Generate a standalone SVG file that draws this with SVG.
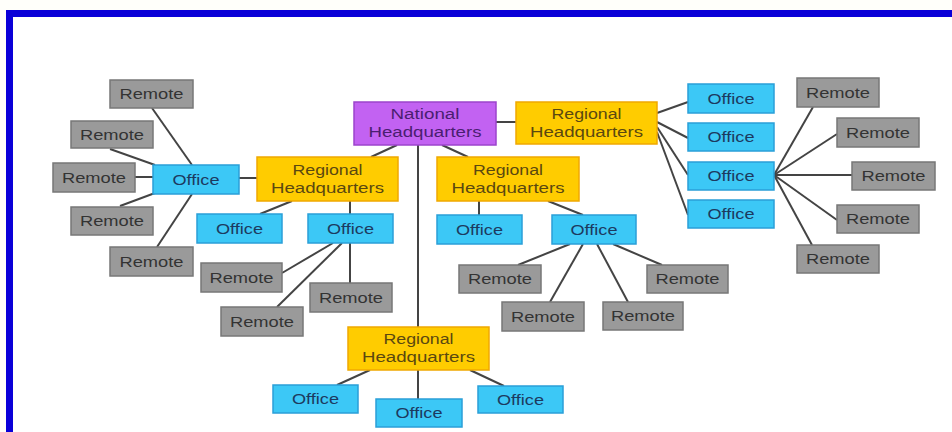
<svg xmlns="http://www.w3.org/2000/svg" width="952" height="432" viewBox="0 0 952 432">
<style>
.r{fill:#9a9a9a;stroke:#777;stroke-width:1.5}
.o{fill:#3cc8f6;stroke:#2a9fd8;stroke-width:1.5}
.h{fill:#ffcc00;stroke:#f0a800;stroke-width:1.5}
.n{fill:#c262f2;stroke:#9c44cc;stroke-width:1.5}
text{font-family:"Liberation Sans",Arial,sans-serif;font-size:14px;text-anchor:middle}
.tr{fill:#333}
.to{fill:#1c3a60}
.th{fill:#5a4810}
.tn{fill:#4a1e70}
#connectors line{stroke:#444;stroke-width:2}
</style>
<rect x="0" y="0" width="952" height="432" fill="#fffffa"/>
<rect x="12" y="17" width="940" height="415" fill="#ffffff"/>
<rect x="6" y="10" width="946" height="7" fill="#0a00d8"/>
<rect x="6" y="10" width="7" height="422" fill="#0a00d8"/>

<g id="connectors">
<line x1="152" y1="108" x2="192" y2="165"/>
<line x1="110" y1="149" x2="155" y2="165"/>
<line x1="135" y1="177" x2="153" y2="177"/>
<line x1="120" y1="206" x2="155" y2="193"/>
<line x1="192" y1="194" x2="157" y2="247"/>
<line x1="239" y1="178" x2="257" y2="178"/>
<line x1="292" y1="201" x2="260" y2="214"/>
<line x1="350" y1="201" x2="350" y2="214"/>
<line x1="333" y1="243" x2="282" y2="273"/>
<line x1="342" y1="243" x2="277" y2="307"/>
<line x1="350" y1="243" x2="350" y2="283"/>
<line x1="397" y1="145" x2="371" y2="157"/>
<line x1="442" y1="145" x2="468" y2="157"/>
<line x1="496" y1="122" x2="516" y2="122"/>
<line x1="418" y1="145" x2="418" y2="327"/>
<line x1="479" y1="201" x2="479" y2="215"/>
<line x1="548" y1="201" x2="583" y2="215"/>
<line x1="570" y1="244" x2="518" y2="265"/>
<line x1="583" y1="244" x2="550" y2="302"/>
<line x1="597" y1="244" x2="628" y2="302"/>
<line x1="613" y1="244" x2="662" y2="265"/>
<line x1="370" y1="370" x2="337" y2="385"/>
<line x1="418" y1="370" x2="418" y2="399"/>
<line x1="470" y1="370" x2="504" y2="386"/>
<line x1="657" y1="113" x2="688" y2="102"/>
<line x1="657" y1="122" x2="688" y2="138"/>
<line x1="657" y1="127" x2="688" y2="175"/>
<line x1="657" y1="132" x2="688" y2="215"/>
<line x1="774" y1="175" x2="813" y2="107"/>
<line x1="774" y1="175" x2="837" y2="134"/>
<line x1="774" y1="175" x2="852" y2="175"/>
<line x1="774" y1="175" x2="837" y2="220"/>
<line x1="774" y1="175" x2="812" y2="245"/>
</g>

<g id="l_r1"><rect class="r" x="110" y="80" width="83" height="28"/><text class="tr" x="151.5" y="99" textLength="64" lengthAdjust="spacingAndGlyphs">Remote</text></g>
<g id="l_r2"><rect class="r" x="71" y="121" width="82" height="27"/><text class="tr" x="112" y="139.5" textLength="64" lengthAdjust="spacingAndGlyphs">Remote</text></g>
<g id="l_r3"><rect class="r" x="53" y="163" width="82" height="29"/><text class="tr" x="94" y="182.5" textLength="64" lengthAdjust="spacingAndGlyphs">Remote</text></g>
<g id="l_o"><rect class="o" x="153" y="165" width="86" height="29"/><text class="to" x="196" y="184.5" textLength="47" lengthAdjust="spacingAndGlyphs">Office</text></g>
<g id="l_r4"><rect class="r" x="71" y="207" width="82" height="28"/><text class="tr" x="112" y="226" textLength="64" lengthAdjust="spacingAndGlyphs">Remote</text></g>
<g id="l_r5"><rect class="r" x="110" y="247" width="83" height="29"/><text class="tr" x="151.5" y="266.5" textLength="64" lengthAdjust="spacingAndGlyphs">Remote</text></g>

<g id="rhq_l"><rect class="h" x="257" y="157" width="141" height="44"/><text class="th" x="327.5" y="174.5" textLength="70" lengthAdjust="spacingAndGlyphs">Regional</text><text class="th" x="327.5" y="192.5" textLength="113" lengthAdjust="spacingAndGlyphs">Headquarters</text></g>
<g id="o_l1"><rect class="o" x="197" y="214" width="85" height="29"/><text class="to" x="239.5" y="233.5" textLength="47" lengthAdjust="spacingAndGlyphs">Office</text></g>
<g id="o_l2"><rect class="o" x="308" y="214" width="85" height="29"/><text class="to" x="350.5" y="233.5" textLength="47" lengthAdjust="spacingAndGlyphs">Office</text></g>
<g id="r_l2a"><rect class="r" x="201" y="263" width="81" height="29"/><text class="tr" x="241.5" y="282.5" textLength="64" lengthAdjust="spacingAndGlyphs">Remote</text></g>
<g id="r_l2b"><rect class="r" x="221" y="307" width="82" height="29"/><text class="tr" x="262" y="326.5" textLength="64" lengthAdjust="spacingAndGlyphs">Remote</text></g>
<g id="r_l2c"><rect class="r" x="310" y="283" width="82" height="29"/><text class="tr" x="351" y="302.5" textLength="64" lengthAdjust="spacingAndGlyphs">Remote</text></g>

<g id="nhq"><rect class="n" x="354" y="102" width="142" height="43"/><text class="tn" x="425" y="119" textLength="69" lengthAdjust="spacingAndGlyphs">National</text><text class="tn" x="425" y="137" textLength="113" lengthAdjust="spacingAndGlyphs">Headquarters</text></g>
<g id="rhq_r"><rect class="h" x="516" y="102" width="141" height="42"/><text class="th" x="586.5" y="118.5" textLength="70" lengthAdjust="spacingAndGlyphs">Regional</text><text class="th" x="586.5" y="136.5" textLength="113" lengthAdjust="spacingAndGlyphs">Headquarters</text></g>
<g id="rhq_c"><rect class="h" x="437" y="157" width="142" height="44"/><text class="th" x="508" y="174.5" textLength="70" lengthAdjust="spacingAndGlyphs">Regional</text><text class="th" x="508" y="192.5" textLength="113" lengthAdjust="spacingAndGlyphs">Headquarters</text></g>
<g id="o_c1"><rect class="o" x="437" y="215" width="85" height="29"/><text class="to" x="479.5" y="234.5" textLength="47" lengthAdjust="spacingAndGlyphs">Office</text></g>
<g id="o_c2"><rect class="o" x="552" y="215" width="84" height="29"/><text class="to" x="594" y="234.5" textLength="47" lengthAdjust="spacingAndGlyphs">Office</text></g>
<g id="r_c1"><rect class="r" x="459" y="265" width="82" height="28"/><text class="tr" x="500" y="284" textLength="64" lengthAdjust="spacingAndGlyphs">Remote</text></g>
<g id="r_c2"><rect class="r" x="502" y="302" width="82" height="29"/><text class="tr" x="543" y="321.5" textLength="64" lengthAdjust="spacingAndGlyphs">Remote</text></g>
<g id="r_c3"><rect class="r" x="603" y="302" width="80" height="28"/><text class="tr" x="643" y="321" textLength="64" lengthAdjust="spacingAndGlyphs">Remote</text></g>
<g id="r_c4"><rect class="r" x="647" y="265" width="81" height="28"/><text class="tr" x="687.5" y="284" textLength="64" lengthAdjust="spacingAndGlyphs">Remote</text></g>

<g id="rhq_b"><rect class="h" x="348" y="327" width="141" height="43"/><text class="th" x="418.5" y="344" textLength="70" lengthAdjust="spacingAndGlyphs">Regional</text><text class="th" x="418.5" y="362" textLength="113" lengthAdjust="spacingAndGlyphs">Headquarters</text></g>
<g id="o_b1"><rect class="o" x="273" y="385" width="85" height="28"/><text class="to" x="315.5" y="404" textLength="47" lengthAdjust="spacingAndGlyphs">Office</text></g>
<g id="o_b2"><rect class="o" x="376" y="399" width="86" height="28"/><text class="to" x="419" y="418" textLength="47" lengthAdjust="spacingAndGlyphs">Office</text></g>
<g id="o_b3"><rect class="o" x="478" y="386" width="85" height="27"/><text class="to" x="520.5" y="404.5" textLength="47" lengthAdjust="spacingAndGlyphs">Office</text></g>

<g id="o_r1"><rect class="o" x="688" y="84" width="86" height="29"/><text class="to" x="731" y="103.5" textLength="47" lengthAdjust="spacingAndGlyphs">Office</text></g>
<g id="o_r2"><rect class="o" x="688" y="123" width="86" height="28"/><text class="to" x="731" y="142" textLength="47" lengthAdjust="spacingAndGlyphs">Office</text></g>
<g id="o_r3"><rect class="o" x="688" y="162" width="86" height="28"/><text class="to" x="731" y="181" textLength="47" lengthAdjust="spacingAndGlyphs">Office</text></g>
<g id="o_r4"><rect class="o" x="688" y="200" width="86" height="28"/><text class="to" x="731" y="219" textLength="47" lengthAdjust="spacingAndGlyphs">Office</text></g>
<g id="r_r1"><rect class="r" x="797" y="78" width="82" height="29"/><text class="tr" x="838" y="97.5" textLength="64" lengthAdjust="spacingAndGlyphs">Remote</text></g>
<g id="r_r2"><rect class="r" x="837" y="118" width="82" height="29"/><text class="tr" x="878" y="137.5" textLength="64" lengthAdjust="spacingAndGlyphs">Remote</text></g>
<g id="r_r3"><rect class="r" x="852" y="162" width="83" height="28"/><text class="tr" x="893.5" y="181" textLength="64" lengthAdjust="spacingAndGlyphs">Remote</text></g>
<g id="r_r4"><rect class="r" x="837" y="205" width="82" height="28"/><text class="tr" x="878" y="224" textLength="64" lengthAdjust="spacingAndGlyphs">Remote</text></g>
<g id="r_r5"><rect class="r" x="797" y="245" width="82" height="28"/><text class="tr" x="838" y="264" textLength="64" lengthAdjust="spacingAndGlyphs">Remote</text></g>
</svg>
